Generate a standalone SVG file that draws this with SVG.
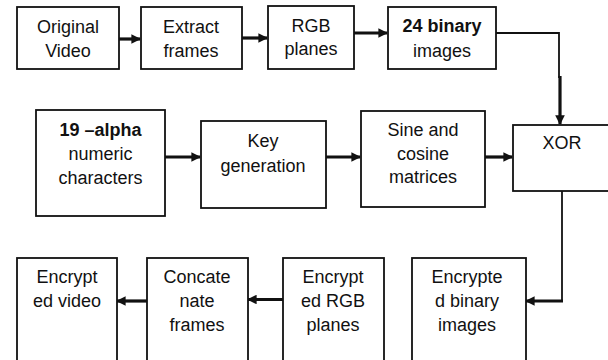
<svg xmlns="http://www.w3.org/2000/svg" width="608" height="360" viewBox="0 0 608 360">
<style>
  .box{fill:#fff;stroke:#111;stroke-width:1.8}
  .t{font-family:"Liberation Sans",Arial,sans-serif;font-size:18px;fill:#111;text-anchor:middle}
  .b{font-weight:bold}
  .thick{fill:none;stroke:#111;stroke-width:3.2}
  .thin{fill:none;stroke:#111;stroke-width:1.8}
</style>
<defs>
  <marker id="ah" viewBox="0 0 10 10" refX="9" refY="5" markerWidth="3" markerHeight="3" orient="auto" markerUnits="strokeWidth">
    <path d="M0,0 L10,5 L0,10 z" fill="#111"/>
  </marker>
</defs>
<rect width="608" height="360" fill="#fff"/>
<g id="connectors">
  <line class="thick" x1="119" y1="39" x2="140" y2="39" marker-end="url(#ah)"/>
  <line class="thick" x1="242" y1="38" x2="267" y2="38" marker-end="url(#ah)"/>
  <line class="thick" x1="354" y1="33" x2="387" y2="33" marker-end="url(#ah)"/>
  <polyline class="thin" points="496,33 559,33 559,78"/>
  <line class="thick" x1="560" y1="76" x2="560" y2="124" marker-end="url(#ah)"/>
  <line class="thick" x1="165" y1="157" x2="200" y2="157" marker-end="url(#ah)"/>
  <line class="thick" x1="326" y1="157" x2="360" y2="157" marker-end="url(#ah)"/>
  <line class="thick" x1="485" y1="157" x2="512" y2="157" marker-end="url(#ah)"/>
  <line class="thin" x1="562" y1="191" x2="562" y2="302"/>
  <line class="thick" x1="563" y1="301" x2="526" y2="301" marker-end="url(#ah)"/>
  <line class="thick" x1="283" y1="299.5" x2="248" y2="299.5" marker-end="url(#ah)"/>
  <line class="thick" x1="147" y1="301" x2="117" y2="301" marker-end="url(#ah)"/>
</g>
<g id="original-video">
  <rect class="box" x="17" y="7" width="102" height="62"/>
  <text class="t" x="68" y="33">Original</text>
  <text class="t" x="68" y="57">Video</text>
</g>
<g id="extract-frames">
  <rect class="box" x="141" y="7" width="101" height="62"/>
  <text class="t" x="191" y="33">Extract</text>
  <text class="t" x="191" y="57">frames</text>
</g>
<g id="rgb-planes">
  <rect class="box" x="268" y="6" width="86" height="63"/>
  <text class="t" x="311" y="32">RGB</text>
  <text class="t" x="311" y="55">planes</text>
</g>
<g id="binary-images">
  <rect class="box" x="388" y="7" width="108" height="62"/>
  <text class="t b" x="442" y="32">24 binary</text>
  <text class="t" x="442" y="57">images</text>
</g>
<g id="alpha-numeric">
  <rect class="box" x="36" y="110" width="129" height="106"/>
  <text class="t b" x="100.5" y="136">19 –alpha</text>
  <text class="t" x="100.5" y="160">numeric</text>
  <text class="t" x="100.5" y="184">characters</text>
</g>
<g id="key-generation">
  <rect class="box" x="201" y="121" width="125" height="87"/>
  <text class="t" x="263" y="147">Key</text>
  <text class="t" x="263" y="172">generation</text>
</g>
<g id="sine-cosine">
  <rect class="box" x="361" y="111" width="124" height="96"/>
  <text class="t" x="423" y="136">Sine and</text>
  <text class="t" x="423" y="160">cosine</text>
  <text class="t" x="423" y="183">matrices</text>
</g>
<g id="xor">
  <rect class="box" x="513" y="125" width="100" height="66"/>
  <text class="t" x="562" y="149">XOR</text>
</g>
<g id="encrypted-binary">
  <rect class="box" x="412" y="258" width="114" height="110"/>
  <text class="t" x="467" y="283">Encrypte</text>
  <text class="t" x="467" y="307">d binary</text>
  <text class="t" x="467" y="331">images</text>
</g>
<g id="encrypted-rgb">
  <rect class="box" x="283" y="258" width="101" height="110"/>
  <text class="t" x="333" y="283">Encrypt</text>
  <text class="t" x="333" y="307">ed RGB</text>
  <text class="t" x="333" y="331">planes</text>
</g>
<g id="concatenate">
  <rect class="box" x="147" y="258" width="101" height="110"/>
  <text class="t" x="197" y="283">Concate</text>
  <text class="t" x="197" y="307">nate</text>
  <text class="t" x="197" y="331">frames</text>
</g>
<g id="encrypted-video">
  <rect class="box" x="17" y="258" width="100" height="110"/>
  <text class="t" x="67" y="283">Encrypt</text>
  <text class="t" x="67" y="307">ed video</text>
</g>
</svg>
